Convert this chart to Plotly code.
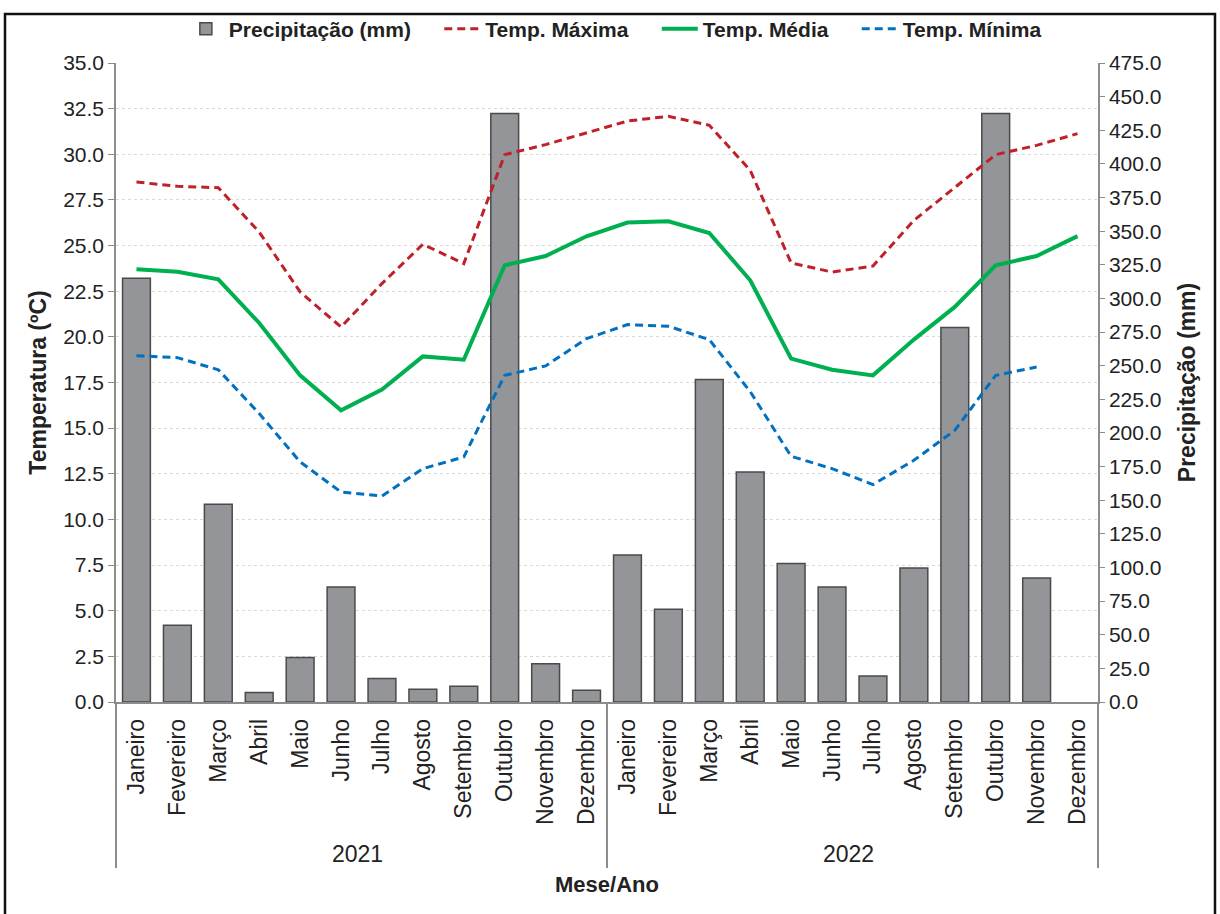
import plotly.graph_objects as go

months = ["Janeiro", "Fevereiro", "Março", "Abril", "Maio", "Junho", "Julho",
          "Agosto", "Setembro", "Outubro", "Novembro", "Dezembro"]
years = ["2021", "2022"]

precip = [315, 57, 147, 7, 33, 85.5, 17.4, 9.4, 11.7, 437.4, 28.5, 8.7,
          109.3, 68.9, 239.7, 171.0, 102.9, 85.5, 19.3, 99.6, 278.3, 437.4, 92.2, None]
t_max = [28.48, 28.25, 28.17, 25.74, 22.46, 20.54, 22.92, 25.07, 24.01, 29.98, 30.53, 31.17,
         31.82, 32.08, 31.59, 29.12, 24.05, 23.55, 23.88, 26.38, 28.17, 29.98, 30.49, 31.13]
t_med = [23.70, 23.57, 23.15, 20.76, 17.89, 15.98, 17.11, 18.93, 18.75, 23.92, 24.43, 25.51,
         26.26, 26.33, 25.69, 23.10, 18.81, 18.20, 17.89, 19.85, 21.64, 23.92, 24.43, 25.52]
t_min = [18.97, 18.86, 18.20, 15.80, 13.15, 11.50, 11.28, 12.78, 13.42, 17.89, 18.41, 19.90,
         20.67, 20.58, 19.85, 17.00, 13.46, 12.78, 11.91, 13.24, 14.88, 17.89, 18.35, None]

x_year = [y for y in years for _ in months]
x_month = [m for _ in years for m in months]
xcat = [x_year, x_month]

FONT = "Liberation Sans, Arial, sans-serif"
AXC = "#8c8c8c"
PAD = "&nbsp;" * 4

fig = go.Figure()
fig.add_trace(go.Bar(
    x=xcat, y=precip, name="<b>Precipitação (mm)</b>" + PAD, yaxis="y",
    marker=dict(color="#939598", line=dict(color="#4a4a4a", width=1.5)),
))
fig.add_trace(go.Scatter(
    x=xcat, y=t_max, name="<b>Temp. Máxima</b>" + PAD, yaxis="y2", mode="lines",
    line=dict(color="#C0202A", width=3, dash="8px,5px"),
))
fig.add_trace(go.Scatter(
    x=xcat, y=t_med, name="<b>Temp. Média</b>" + PAD, yaxis="y2", mode="lines",
    line=dict(color="#00B050", width=4),
))
fig.add_trace(go.Scatter(
    x=xcat, y=t_min, name="<b>Temp. Mínima</b>", yaxis="y2", mode="lines",
    line=dict(color="#0070C0", width=3, dash="8px,5px"),
))

fig.update_layout(
    width=1220, height=914,
    margin=dict(l=116, r=122, t=63, b=212, autoexpand=False),
    paper_bgcolor="white", plot_bgcolor="white",
    font=dict(family=FONT, size=21, color="#222222"),
    bargap=0.32,
    showlegend=True,
    legend=dict(orientation="h", x=0.508, xanchor="center", y=1.053, yanchor="middle",
                font=dict(size=21, color="#222222"), itemwidth=36, tracegroupgap=0,
                bgcolor="rgba(0,0,0,0)"),
    xaxis=dict(
        type="multicategory", showline=True, linecolor=AXC, linewidth=1.5,
        ticks="", tickangle=-90, tickfont=dict(size=23), ticklabelstandoff=6,
        showdividers=True, dividercolor=AXC, dividerwidth=1.5,
        showgrid=False, zeroline=False,
        title=dict(text="<b>Mese/Ano</b>", font=dict(size=22), standoff=10),
    ),
    yaxis=dict(
        side="right", range=[0, 475], dtick=25, tick0=0, tickformat=".1f",
        tickfont=dict(size=21),
        showgrid=False, zeroline=False, showline=True, linecolor=AXC, linewidth=1.5,
        ticks="outside", ticklen=5, tickcolor=AXC,
        title=dict(text="<b>Precipitação (mm)</b>", font=dict(size=23), standoff=18),
    ),
    yaxis2=dict(
        side="left", overlaying="y", range=[0, 35], dtick=2.5, tick0=0, tickformat=".1f",
        tickfont=dict(size=21),
        showgrid=True, gridcolor="#d9d9d9", griddash="dot", gridwidth=1,
        zeroline=False, showline=True, linecolor=AXC, linewidth=1.5,
        ticks="outside", ticklen=6, tickcolor=AXC,
        title=dict(text="<b>Temperatura (ºC)</b>", font=dict(size=23), standoff=10),
    ),
)

# outer frame
fig.add_shape(type="rect", xref="paper", yref="paper",
              x0=(5 - 116) / 982, x1=(1215 - 116) / 982,
              y0=(702 - 925) / 639, y1=(702 - 14) / 639,
              line=dict(color="#111111", width=2.5), fillcolor="rgba(0,0,0,0)", layer="below")

fig.write_html("out.html", config={"displayModeBar": False},
               post_script="document.body.style.margin='0px';")
